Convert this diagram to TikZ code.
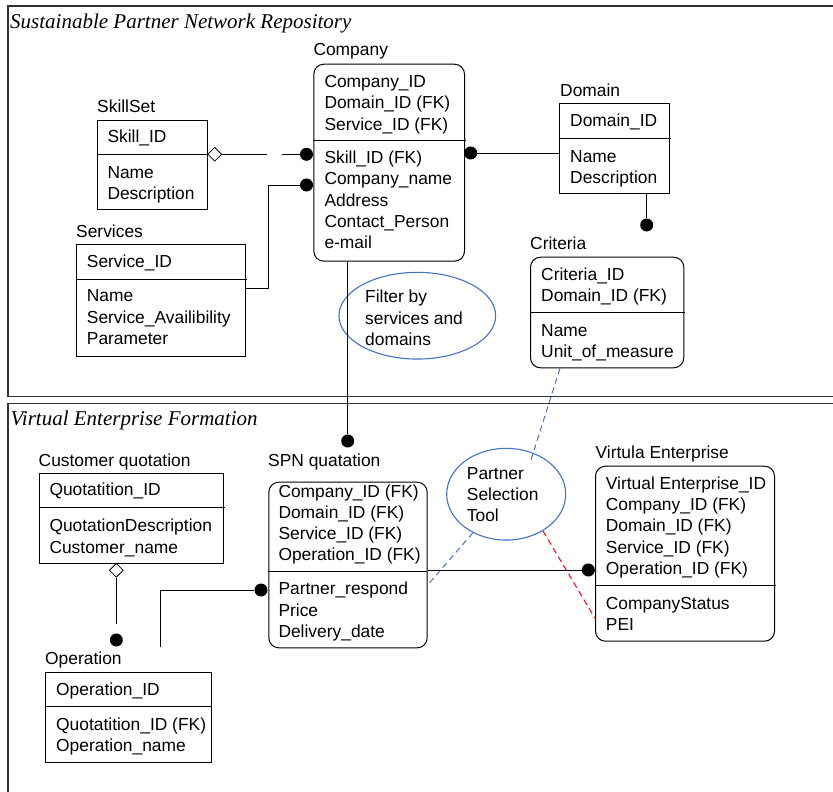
\documentclass[tikz,border=0pt]{standalone}
\usepackage{fontspec}
\setmainfont{Liberation Sans}
\newfontfamily\titlefont{Liberation Serif}
\usetikzlibrary{calc,shapes.geometric}

\definecolor{toolblue}{HTML}{4472C4}
\newcommand\bodyfont{\fontsize{17.4}{21.3}\selectfont}

\tikzset{
  panel/.style={line width=1.6pt, draw=black!80},
  entity/.style={draw, line width=1pt, anchor=north west, inner sep=0pt},
  rbox/.style={rounded corners=10pt},
  divider/.style={line width=1pt},
  field/.style={anchor=west, align=left, inner sep=0pt, font=\bodyfont},
  caption/.style={anchor=base west, inner sep=0pt, font=\bodyfont},
  heading/.style={anchor=base west, inner sep=0pt, font=\titlefont\itshape\fontsize{21}{25}\selectfont},
  fkdot/.style={circle, fill=black, inner sep=0pt, minimum size=13pt},
  hollow/.style={diamond, draw, fill=white, inner sep=0pt, minimum width=14pt, minimum height=14pt, line width=0.8pt},
  link/.style={line width=1pt},
  tool/.style={ellipse, draw=toolblue, line width=1.1pt, inner sep=0pt},
  bluedash/.style={draw=toolblue, dash pattern=on 6pt off 4pt, line width=1pt},
  reddash/.style={draw=red, dash pattern=on 6pt off 4pt, line width=1pt},
}

\begin{document}
\begin{tikzpicture}[x=1pt, y=-1pt]
\useasboundingbox (0,0) rectangle (833,792);
\clip (0,0) rectangle (833,792);

% ---------- the two package frames ----------
\draw[panel] (840,6) -- (8,6) -- (8,396.5) -- (840,396.5);
\draw[panel] (840,403.3) -- (8,403.3) -- (8,800);
\node[heading] (repoTitle) at (10,28.5) {Sustainable Partner Network Repository};
\node[heading] (veTitle) at (10.5,425) {Virtual Enterprise Formation};

% ---------- Company ----------
\node[caption] (companyT) at (313.3,56) {Company};
\node[entity, rbox, minimum width=150.7pt, minimum height=197pt] (company) at (313.3,63.7) {};
\draw[divider] ($(company.north west)+(0,77)$) -- ++(152.2,0);
\node[field] (companyK) at (324.3,104.6) {\strut Company\_ID\\\strut Domain\_ID (FK)\\\strut Service\_ID (FK)};
\node[field] (companyA) at (324.3,202) {\strut Skill\_ID (FK)\\\strut Company\_name\\\strut Address\\\strut Contact\_Person\\\strut e-mail};

% ---------- SkillSet ----------
\node[caption] (skillT) at (97,112.7) {SkillSet};
\node[entity, minimum width=110pt, minimum height=89.3pt] (skill) at (96.7,120) {};
\draw[divider] ($(skill.north west)+(0,34.3)$) -- ++(110,0);
\node[field] (skillK) at (107.3,138.7) {\strut Skill\_ID};
\node[field] (skillA) at (107.3,184.4) {\strut Name\\\strut Description};

% ---------- Services ----------
\node[caption] (servT) at (76,237.3) {Services};
\node[entity, minimum width=169.3pt, minimum height=111.4pt] (services) at (75.7,244.3) {};
\draw[divider] ($(services.north west)+(0,35)$) -- ++(170.8,0);
\node[field] (servK) at (86.7,263.4) {\strut Service\_ID};
\node[field] (servA) at (86.7,319) {\strut Name\\\strut Service\_Availibility\\\strut Parameter};

% ---------- Domain ----------
\node[caption] (domT) at (560,96.5) {Domain};
\node[entity, minimum width=109.7pt, minimum height=90pt] (domain) at (559.3,103.3) {};
\draw[divider] ($(domain.north west)+(0,35.4)$) -- ++(111.2,0);
\node[field] (domK) at (570,122.7) {\strut Domain\_ID};
\node[field] (domA) at (570,168.4) {\strut Name\\\strut Description};

% ---------- Criteria ----------
\node[caption] (critT) at (530,249.3) {Criteria};
\node[entity, rbox, minimum width=153.3pt, minimum height=110.6pt] (criteria) at (530,256.7) {};
\draw[divider] ($(criteria.north west)+(0,56)$) -- ++(154.8,0);
\node[field] (critK) at (541,286.4) {\strut Criteria\_ID\\\strut Domain\_ID (FK)};
\node[field] (critA) at (541,342.4) {\strut Name\\\strut Unit\_of\_measure};

% ---------- Customer quotation ----------
\node[caption] (cqT) at (38.5,466.5) {Customer quotation};
\node[entity, minimum width=184pt, minimum height=90pt] (cquote) at (39.3,473.3) {};
\draw[divider] ($(cquote.north west)+(0,34.4)$) -- ++(185.5,0);
\node[field] (cqK) at (49.3,491.7) {\strut Quotatition\_ID};
\node[field] (cqA) at (49.3,538.1) {\strut QuotationDescription\\\strut Customer\_name};

% ---------- SPN quatation ----------
\node[caption] (spnT) at (268,466) {SPN quatation};
\node[entity, rbox, minimum width=158.4pt, minimum height=165.6pt] (spn) at (268.3,481.7) {};
\draw[divider] ($(spn.north west)+(0,90)$) -- ++(158.4,0);
\node[field] (spnK) at (278.3,524.7) {\strut Company\_ID (FK)\\\strut Domain\_ID (FK)\\\strut Service\_ID (FK)\\\strut Operation\_ID (FK)};
\node[field] (spnA) at (278.3,612) {\strut Partner\_respond\\\strut Price\\\strut Delivery\_date};

% ---------- Virtual enterprise ----------
\node[caption] (veT) at (595.5,458.5) {Virtula Enterprise};
\node[entity, rbox, minimum width=179pt, minimum height=175pt] (ve) at (595,465.7) {};
\draw[divider] ($(ve.north west)+(0,120)$) -- ++(180.5,0);
\node[field] (veK) at (605.7,527.6) {\strut Virtual Enterprise\_ID\\\strut Company\_ID (FK)\\\strut Domain\_ID (FK)\\\strut Service\_ID (FK)\\\strut Operation\_ID (FK)};
\node[field] (veA) at (605.7,615.7) {\strut CompanyStatus\\\strut PEI};

% ---------- Operation ----------
\node[caption] (opT) at (45,664.3) {Operation};
\node[entity, minimum width=165.7pt, minimum height=90pt] (operation) at (45,671.7) {};
\draw[divider] ($(operation.north west)+(0,34.3)$) -- ++(167.2,0);
\node[field] (opK) at (56,691) {\strut Operation\_ID};
\node[field] (opA) at (56,736.7) {\strut Quotatition\_ID (FK)\\\strut Operation\_name};

% ---------- tools ----------
\node[tool, minimum width=156.7pt, minimum height=86.7pt] (filter) at (417.3,315.7) {};
\node[field] (filterTxt) at (365,319.8) {\strut Filter by\\\strut services and\\\strut domains};
\node[tool, minimum width=119pt, minimum height=91.7pt] (pst) at (506.2,494.2) {};

% ---------- relationship ends ----------
\node[fkdot] (dSkill) at (306.5,154.3) {};
\node[fkdot] (dServ) at (306.5,185) {};
\node[fkdot] (dDom) at (470.7,153) {};
\node[fkdot] (dCrit) at (646.7,225) {};
\node[fkdot] (dSpn) at (347.7,441) {};
\node[fkdot] (dVe) at (588.3,570) {};
\node[fkdot] (dSpnL) at (261,590) {};
\node[fkdot] (dOp) at (116.3,640) {};
\node[hollow] (skDia) at (214.7,154.3) {};
\node[hollow] (cqDia) at (116.3,570.3) {};

% ---------- relationships ----------
\coordinate (skGapA) at (267.3,154.3);
\coordinate (skGapB) at (282.3,154.3);
\draw[link] (skDia.east) -- (skGapA);
\draw[link] (skGapB) -- (dSkill);
\draw[link] ($(services.north east)+(0,44)$) -- ++(22.3,0) |- (dServ);
\draw[link] (dDom) -- (domain.west |- dDom);
\draw[link] (domain.south -| dCrit) -- (dCrit);
\draw[link] (company.south -| dSpn) -- (dSpn);
\draw[link] (spn.east |- dVe) -- (dVe);
\coordinate (opEnd) at (160,647.3);
\draw[link] (opEnd) |- (dSpnL);
\coordinate (cqEnd) at (116.3,624);
\draw[link] (cqDia.south) -- (cqEnd);

% ---------- partner selection links ----------
\coordinate (critFoot) at ($(criteria.south west)+(30,0)$);
\coordinate (toolTip) at (530,463);
\draw[bluedash] (critFoot) -- (toolTip);
\draw[bluedash] (pst) -- ($(spn.north east)+(0,103.3)$);
\draw[reddash] (pst.315) -- ($(ve.north west)+(0,152.6)$);
\node[field] (pstTxt) at (466.7,496.4) {\strut Partner\\\strut Selection\\\strut Tool};
\end{tikzpicture}
\end{document}
